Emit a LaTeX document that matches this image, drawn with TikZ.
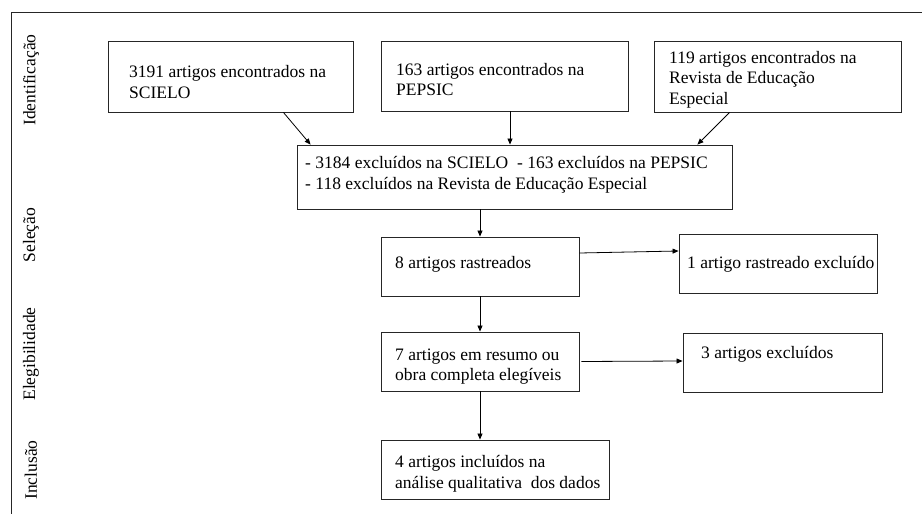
\documentclass[tikz,border=0pt]{standalone}
\usepackage{fontspec}
\setmainfont{Liberation Serif}
\usetikzlibrary{arrows.meta}
\begin{document}
\begin{tikzpicture}[x=1pt,y=-1pt,
  boxnode/.style={draw=black!85, line width=0.9pt, inner sep=0pt, rectangle},
  txt/.style={anchor=base west, inner sep=0pt, font=\fontsize{17.5}{21}\selectfont},
  side/.style={rotate=90, inner sep=0pt, font=\fontsize{17.5}{21}\selectfont},
  arr/.style={draw=black, line width=0.8pt, -{Triangle[length=6pt,width=5pt]}}]
\useasboundingbox (0,0) rectangle (922,514);
% outer frame (only top and left visible)
\draw[line width=0.9pt, black!85] (11,514) -- (11,12) -- (922,12);
% side labels
\node[side] (lid) at (31,80) {Identificação};
\node[side] (lsel) at (31,235) {Seleção};
\node[side] (leleg) at (31,354) {Elegibilidade};
\node[side] (linc) at (31,470) {Inclusão};
% boxes
\node[boxnode, minimum width=245pt, minimum height=71pt] (b1) at (230.5,76.5) {};
\node[boxnode, minimum width=247pt, minimum height=70pt] (b2) at (504.5,76) {};
\node[boxnode, minimum width=247pt, minimum height=71pt] (b3) at (777.5,76.5) {};
\node[boxnode, minimum width=435pt, minimum height=64pt] (b4) at (514.5,177) {};
\node[boxnode, minimum width=198pt, minimum height=59pt] (b5) at (480,266.5) {};
\node[boxnode, minimum width=198pt, minimum height=59pt] (b6) at (778,263.5) {};
\node[boxnode, minimum width=198pt, minimum height=59pt] (b7) at (480,361.5) {};
\node[boxnode, minimum width=199pt, minimum height=59pt] (b8) at (782.5,362.5) {};
\node[boxnode, minimum width=228pt, minimum height=59pt] (b9) at (495,469.5) {};
% texts
\node[txt] (t1a) at (129,77) {3191 artigos encontrados na};
\node[txt] (t1b) at (129,98) {SCIELO};
\node[txt] (t2a) at (396,75) {163 artigos encontrados na};
\node[txt] (t2b) at (396,95) {PEPSIC};
\node[txt] (t3a) at (669,63) {119 artigos encontrados na};
\node[txt] (t3b) at (669,83.5) {Revista de Educação};
\node[txt] (t3c) at (669,104) {Especial};
\node[txt] (t4a) at (305,168) {- 3184 excluídos na SCIELO\ \ - 163 excluídos na PEPSIC};
\node[txt] (t4b) at (305,189) {- 118 excluídos na Revista de Educação Especial};
\node[txt] (t5) at (395,268) {8 artigos rastreados};
\node[txt] (t6) at (687,268) {1 artigo rastreado excluído};
\node[txt] (t7a) at (395,360) {7 artigos em resumo ou};
\node[txt] (t7b) at (395,380.5) {obra completa elegíveis};
\node[txt] (t8) at (701,358) {3 artigos excluídos};
\node[txt] (t9a) at (395,467) {4 artigos incluídos na};
\node[txt] (t9b) at (395,488) {análise qualitativa\ \ dos dados};
% connectors
\draw[arr] ([xshift=-70pt]b1.south east) -- ([xshift=14pt]b4.north west);
\draw[arr] ([xshift=5.5pt]b2.south) -- ([xshift=5.5pt]b2.south |- b4.north);
\draw[arr] ([xshift=76pt]b3.south west) -- ([xshift=-35pt]b4.north east);
\draw[arr] (b4.south -| b5.north) -- (b5.north);
\draw[arr] ([yshift=13.5pt]b5.east) -- ([yshift=12.5pt]b6.west);
\draw[arr] (b5.south) -- (b7.north);
\draw[arr] ([xshift=2pt]b7.east) -- ([yshift=1.5pt]b8.west);
\draw[arr] (b7.south) -- (b7.south |- b9.north);
\end{tikzpicture}
\end{document}
